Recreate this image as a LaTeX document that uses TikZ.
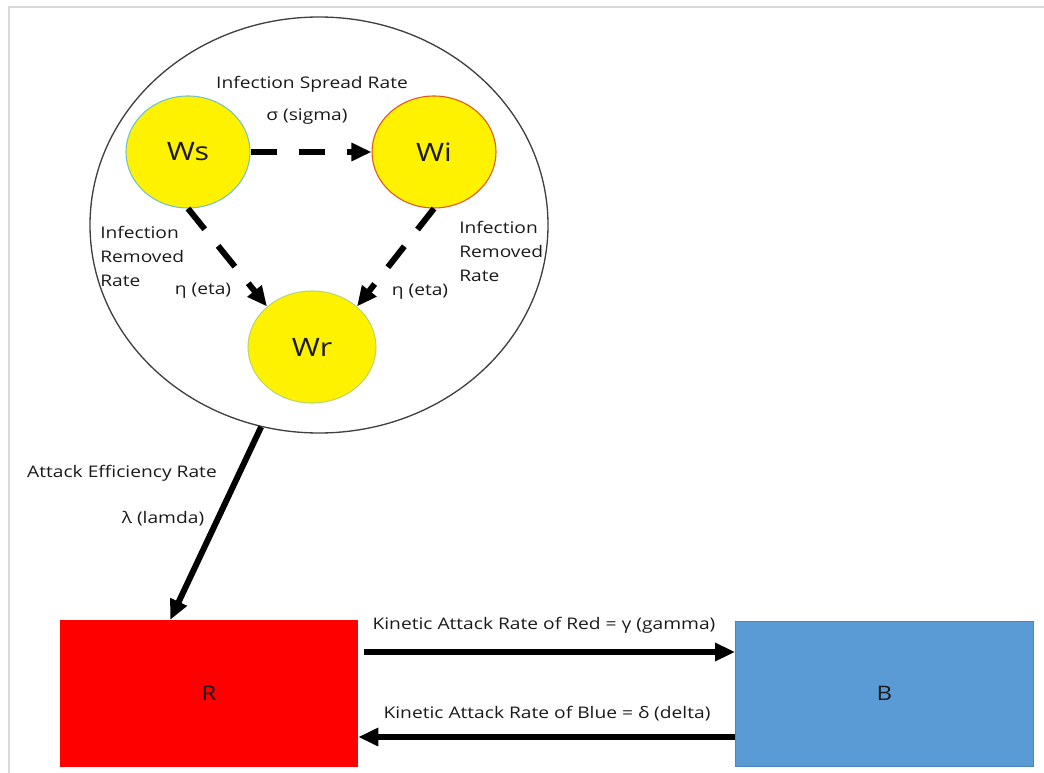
\documentclass[tikz,border=0pt]{standalone}
\usepackage{fontspec}
\setmainfont{Open Sans}[FakeStretch=1.2]
\usetikzlibrary{shapes.geometric,arrows.meta,calc}
\definecolor{txt}{HTML}{1A1A1A}
\definecolor{wsline}{HTML}{6FC3C8}
\definecolor{wiline}{HTML}{E0561B}
\definecolor{wrline}{HTML}{B9D66E}
\definecolor{redbox}{HTML}{FF0000}
\definecolor{bluebox}{HTML}{5B9BD5}
\definecolor{blueline}{HTML}{4A86BE}
\definecolor{frame}{HTML}{D9D9D9}
\tikzset{
  lbl/.style={text=txt, font=\fontsize{12}{18}\selectfont, inner sep=0pt},
  state/.style={ellipse, fill=yellow, line width=0.8pt, inner sep=0pt,
    minimum width=93pt, minimum height=84pt, text=txt,
    font=\fontsize{19}{20}\selectfont},
  box/.style={rectangle, inner sep=0pt, text=txt, font=\fontsize{15}{16}\selectfont},
  flow/.style={line width=4.5pt, -{Triangle[length=15pt,width=13pt]}},
  dflow/.style={flow, dash pattern=on 20pt off 16pt},
}
\begin{document}
\begin{tikzpicture}[x=0.75pt, y=-0.75pt]
\useasboundingbox (0,0) rectangle (1044,773);
% page frame
\draw[frame, line width=1.5pt] (9,773) -- (9,7) -- (1044,7);

% worm population compartment
\node[ellipse, draw=black!75, line width=1pt, minimum width=343.5pt,
  minimum height=312pt, inner sep=0pt] (pool) at (319,225) {};
\node[state, draw=wsline] (Ws) at (188,152) {Ws};
\node[state, draw=wiline] (Wi) at (434,152) {Wi};
\node[state, draw=wrline, minimum width=96pt] (Wr) at (312,347) {Wr};

\draw[dflow] (Ws.east) -- (Wi.west);
\draw[dflow] (Ws.south) -- (Wr.138);
\draw[dflow] (Wi.south) -- (Wr.42);

\node[lbl] (spread) at (312,84) {Infection Spread Rate};
\node[lbl] (sigma) at (307,117) {σ (sigma)};
\node[lbl, align=left, anchor=west] (remL) at (100,256) {Infection\\Removed\\Rate};
\node[lbl] (etaL) at (203,291) {η (eta)};
\node[lbl, align=left, anchor=west] (remR) at (459,251) {Infection\\Removed\\Rate};
\node[lbl] (etaR) at (420,292) {η (eta)};

% red and blue forces
\node[box, fill=redbox, minimum width=223.5pt, minimum height=110pt] (R) at (209,693.5) {R};
\node[box, fill=bluebox, draw=blueline, line width=0.6pt, minimum width=223.5pt, minimum height=108.75pt] (B) at (884.5,693.5) {B};

\coordinate (hit) at ($(R.north west)!0.37!(R.north east)$);
\draw[flow] (pool.-106) -- (hit);
\node[lbl] (eff) at (122,473) {Attack Efficiency Rate};
\node[lbl] (lam) at (163,519) {λ (lamda)};

\draw[flow] ($(R.east)+(6,-41.5)$) -- ($(B.west)+(0,-41.5)$);
\draw[flow] ($(B.west)+(0,43.5)$) -- ($(R.east)+(0,43.5)$);
\node[lbl] (gam) at (544,625) {Kinetic Attack Rate of Red = γ (gamma)};
\node[lbl] (del) at (547,714) {Kinetic Attack Rate of Blue = δ (delta)};
\end{tikzpicture}
\end{document}
